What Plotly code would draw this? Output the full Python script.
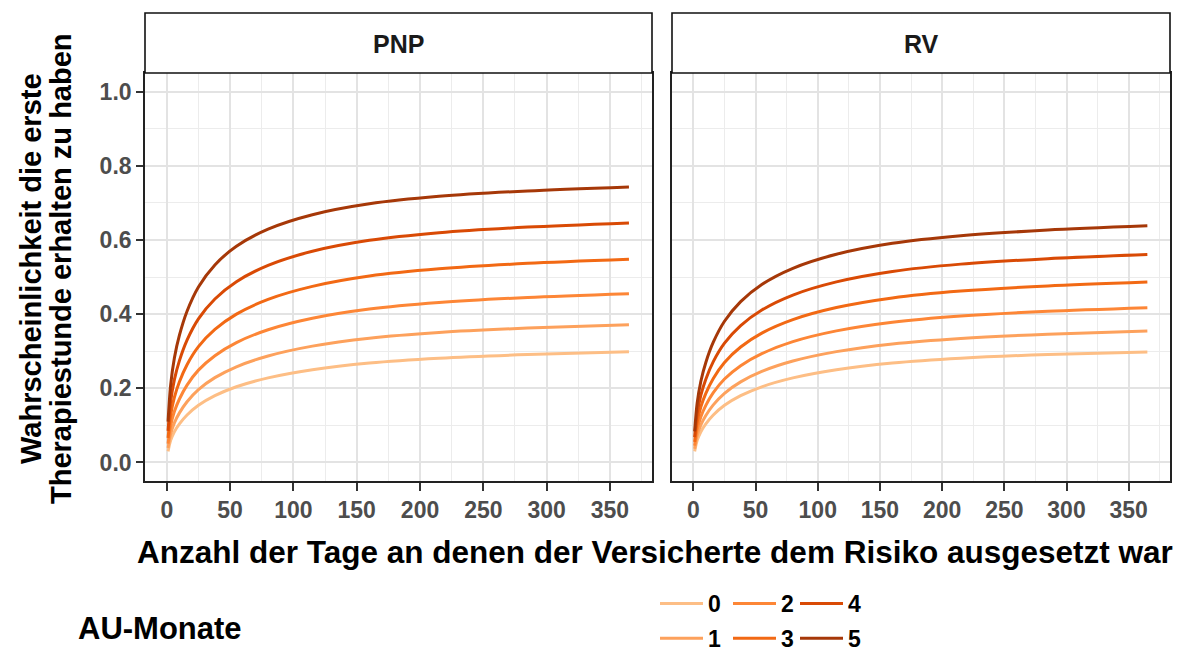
import plotly.graph_objects as go

W, H = 1186, 652


def px(x):
    return x / W


def py(y):
    return 1 - y / H


days = [1, 3, 6, 10, 16, 25, 38, 55, 80, 115, 160, 215, 285, 365]
groups = ["0", "1", "2", "3", "4", "5"]
panels = ["PNP", "RV"]

pnp_0 = [0.0300, 0.0588, 0.0827, 0.1039, 0.1278, 0.1540, 0.1800, 0.2040, 0.2280, 0.2500, 0.2680, 0.2810, 0.2910, 0.2986]
pnp_1 = [0.0391, 0.0762, 0.1068, 0.1337, 0.1638, 0.1965, 0.2287, 0.2580, 0.2871, 0.3136, 0.3351, 0.3505, 0.3622, 0.3712]
pnp_2 = [0.0508, 0.0985, 0.1373, 0.1711, 0.2086, 0.2489, 0.2879, 0.3232, 0.3579, 0.3888, 0.4137, 0.4313, 0.4447, 0.4549]
pnp_3 = [0.0659, 0.1268, 0.1757, 0.2177, 0.2636, 0.3122, 0.3586, 0.3999, 0.4397, 0.4747, 0.5026, 0.5220, 0.5368, 0.5478]
pnp_4 = [0.0853, 0.1625, 0.2233, 0.2746, 0.3298, 0.3871, 0.4407, 0.4873, 0.5313, 0.5693, 0.5988, 0.6193, 0.6346, 0.6459]
pnp_5 = [0.1101, 0.2071, 0.2815, 0.3430, 0.4076, 0.4731, 0.5326, 0.5829, 0.6290, 0.6679, 0.6973, 0.7174, 0.7321, 0.7429]

rv_0 = [0.0300, 0.0588, 0.0827, 0.1039, 0.1278, 0.1540, 0.1800, 0.2040, 0.2280, 0.2500, 0.2680, 0.2810, 0.2910, 0.2980]
rv_1 = [0.0369, 0.0721, 0.1010, 0.1266, 0.1553, 0.1865, 0.2172, 0.2454, 0.2734, 0.2988, 0.3195, 0.3344, 0.3458, 0.3545]
rv_2 = [0.0453, 0.0882, 0.1232, 0.1539, 0.1880, 0.2249, 0.2609, 0.2934, 0.3258, 0.3548, 0.3782, 0.3950, 0.4077, 0.4174]
rv_3 = [0.0556, 0.1076, 0.1497, 0.1863, 0.2266, 0.2697, 0.3113, 0.3487, 0.3851, 0.4176, 0.4436, 0.4620, 0.4759, 0.4865]
rv_4 = [0.0682, 0.1311, 0.1814, 0.2246, 0.2717, 0.3215, 0.3689, 0.4110, 0.4514, 0.4869, 0.5150, 0.5347, 0.5495, 0.5607]
rv_5 = [0.0835, 0.1593, 0.2190, 0.2696, 0.3241, 0.3806, 0.4336, 0.4799, 0.5235, 0.5614, 0.5909, 0.6113, 0.6265, 0.6379]

x_ticks = [0, 50, 100, 150, 200, 250, 300, 350]
x_minor = [25, 75, 125, 175, 225, 275, 325, 375]
y_ticks = [0.0, 0.2, 0.4, 0.6, 0.8, 1.0]
y_minor = [0.1, 0.3, 0.5, 0.7, 0.9]

colors = ["#FDBE85", "#FDA15C", "#FD8636", "#F26914", "#D94A05", "#A63808"]

series = {
    "PNP": [pnp_0, pnp_1, pnp_2, pnp_3, pnp_4, pnp_5],
    "RV": [rv_0, rv_1, rv_2, rv_3, rv_4, rv_5],
}

FONT = "Liberation Sans, Arial, sans-serif"

x_dom = [[px(145), px(652)], [px(672), px(1170)]]
y_bot, y_top = py(481), py(73)
strip_top = py(13)

legend_names = ["legend", "legend2", "legend3"]

fig = go.Figure()
for pi, p in enumerate(panels):
    xa = "x" if pi == 0 else "x2"
    ya = "y" if pi == 0 else "y2"
    for gi, g in enumerate(groups):
        fig.add_trace(go.Scatter(
            x=days, y=series[p][gi], mode="lines", name=g, legendgroup=g,
            line=dict(color=colors[gi], width=3, shape="spline", smoothing=0.8),
            xaxis=xa, yaxis=ya, showlegend=(pi == 0),
            legend=legend_names[gi // 2],
        ))

tickfont = dict(family=FONT, size=23, color="#4D4D4D", weight="bold")
base = dict(
    showgrid=True, gridcolor="#E3E3E3", gridwidth=1.8,
    zeroline=False, showline=True, linecolor="#222222", linewidth=1.6, mirror=True,
    tickwidth=2, tickcolor="#333333", tickfont=tickfont, automargin=False,
)

for pi in range(2):
    sx = "" if pi == 0 else "2"
    fig.update_layout(**{
        "xaxis" + sx: dict(
            domain=x_dom[pi], range=[-17.2, 383.2], anchor="y" + sx,
            tickvals=x_ticks, ticks="outside", ticklen=8,
            minor=dict(tickvals=x_minor, showgrid=True, gridcolor="#ECECEC", gridwidth=1.1),
            **base,
        ),
        "yaxis" + sx: dict(
            domain=[y_bot, y_top], range=[-0.05, 1.05], anchor="x" + sx,
            tickvals=y_ticks, tickformat=".1f",
            ticks="outside" if pi == 0 else "", ticklen=7,
            showticklabels=(pi == 0),
            minor=dict(tickvals=y_minor, showgrid=True, gridcolor="#ECECEC", gridwidth=1.1),
            **base,
        ),
    })

shapes = []
annotations = []


def label(text, x, y, size, angle=0, color="black"):
    annotations.append(dict(text="<b>%s</b>" % text, xref="paper", yref="paper",
                            x=x, y=y, xanchor="center", yanchor="middle", textangle=angle,
                            showarrow=False, font=dict(family=FONT, size=size, color=color)))


for pi, p in enumerate(panels):
    shapes.append(dict(type="rect", xref="paper", yref="paper",
                       x0=x_dom[pi][0], x1=x_dom[pi][1], y0=y_top, y1=strip_top,
                       line=dict(color="#111111", width=1.6), fillcolor="white", layer="above"))
    label(p, (x_dom[pi][0] + x_dom[pi][1]) / 2, py(44), 25, color="#1A1A1A")

label("Anzahl der Tage an denen der Versicherte dem Risiko ausgesetzt war", px(655), py(552), 31.5)
label("Wahrscheinlichkeit die erste", px(31), py(269), 29, angle=-90)
label("Therapiestunde erhalten zu haben", px(61), py(269), 29, angle=-90)
label("AU-Monate", px(160), py(628), 31)

leg_common = dict(orientation="v", xanchor="left", yanchor="middle", y=py(621),
                  bgcolor="rgba(0,0,0,0)", tracegroupgap=2, itemwidth=43,
                  font=dict(family=FONT, size=23, color="black", weight="bold"))
fig.update_layout(
    width=W, height=H,
    margin=dict(l=0, r=0, t=0, b=0, autoexpand=False),
    paper_bgcolor="white", plot_bgcolor="white",
    shapes=shapes, annotations=annotations,
    legend=dict(x=px(655), **leg_common),
    legend2=dict(x=px(728), **leg_common),
    legend3=dict(x=px(795), **leg_common),
)

fig.write_html(
    "out.html",
    config={"displayModeBar": False},
    post_script="document.body.style.margin='0';document.body.style.overflow='hidden';",
)
